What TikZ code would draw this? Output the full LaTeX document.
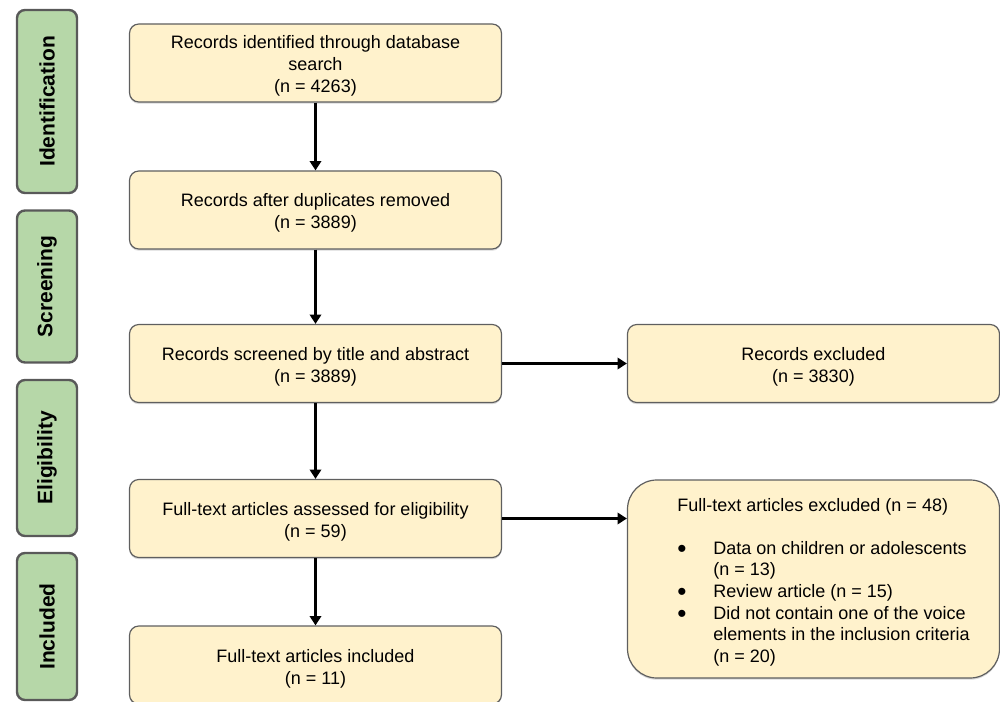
\documentclass[tikz,border=0pt]{standalone}
\usepackage{fontspec}
\setmainfont{Liberation Sans}
\usetikzlibrary{arrows.meta,shadows}
\definecolor{boxfill}{HTML}{FFF2CC}
\definecolor{boxline}{HTML}{5F5F5F}
\definecolor{stagefill}{HTML}{B6D7A8}
\definecolor{stageline}{HTML}{595959}
\newcommand{\lowtxt}[2][2.4pt]{\raisebox{-#1}[\height][\depth]{\begin{tabular}{@{}c@{}}#2\end{tabular}}}
\newcommand{\bul}{\makebox[27pt][l]{\raisebox{-2.3pt}[0pt][0pt]{\scalebox{1.45}{\textbullet}}}}
\begin{document}
\begin{tikzpicture}[x=0.75pt,y=-0.75pt,
  flowbox/.style={draw=boxline, line width=0.9pt, fill=boxfill, rounded corners=7pt,
    minimum width=279pt, minimum height=58.5pt, align=center, inner sep=0pt,
    font=\fontsize{13.5}{16.5}\selectfont,
    drop shadow={shadow xshift=0pt, shadow yshift=-1.3pt, opacity=0.3}},
  stagebox/.style={draw=stageline, line width=1.8pt, fill=stagefill, rounded corners=6pt,
    minimum width=45pt, inner sep=0pt, font=\fontsize{15.75}{18}\selectfont\bfseries},
  flow/.style={line width=2.25pt, -{Triangle[length=7pt,width=8.5pt]}}]
\useasboundingbox (0,0) rectangle (1000,702);

% stage labels
\node[stagebox, minimum height=137.25pt] (sid) at (47,101.5) {\rotatebox{90}{Identification}};
\node[stagebox, minimum height=114pt] (sscr) at (47,286.5) {\rotatebox{90}{Screening}};
\node[stagebox, minimum height=117pt] (selig) at (47,458) {\rotatebox{90}{Eligibility}};
\node[stagebox, minimum height=110.25pt] (sinc) at (47,626.5) {\rotatebox{90}{Included}};

% main column
\node[flowbox] (b1) at (315.5,63) {\lowtxt{Records identified through database\\search\\(n = 4263)}};
\node[flowbox] (b2) at (315.5,210) {\lowtxt{Records after duplicates removed\\(n = 3889)}};
\node[flowbox] (b3) at (315.5,363.5) {\lowtxt{Records screened by title and abstract\\(n = 3889)}};
\node[flowbox] (b4) at (315.5,518.5) {\lowtxt{Full-text articles assessed for eligibility\\(n = 59)}};
\node[flowbox] (b5) at (315.5,665) {\lowtxt[2.8pt]{Full-text articles included\\(n = 11)}};

% right column
\node[flowbox] (e1) at (813.5,363.5) {\lowtxt{Records excluded\\(n = 3830)}};
\node[flowbox, minimum height=148.5pt, rounded corners=22pt] (e2) at (813.5,579)
  {\hspace*{15pt}\raisebox{-2.6pt}[\height][\depth]{\renewcommand{\arraystretch}{0.982}\begin{tabular}{@{}l@{}}
   Full-text articles excluded (n = 48)\\
   \\
   \bul Data on children or adolescents\\
   \hspace*{27pt}(n = 13)\\
   \bul Review article (n = 15)\\
   \bul Did not contain one of the voice\\
   \hspace*{27pt}elements in the inclusion criteria\\
   \hspace*{27pt}(n = 20)
   \end{tabular}}};

% connectors
\draw[flow] (b1) -- (b2);
\draw[flow] (b2) -- (b3);
\draw[flow] (b3) -- (b4);
\draw[flow] (b4) -- (b5);
\draw[flow] (b3) -- (e1);
\draw[flow] (b4.east) -- (b4.east -| e2.west);
\end{tikzpicture}
\end{document}
